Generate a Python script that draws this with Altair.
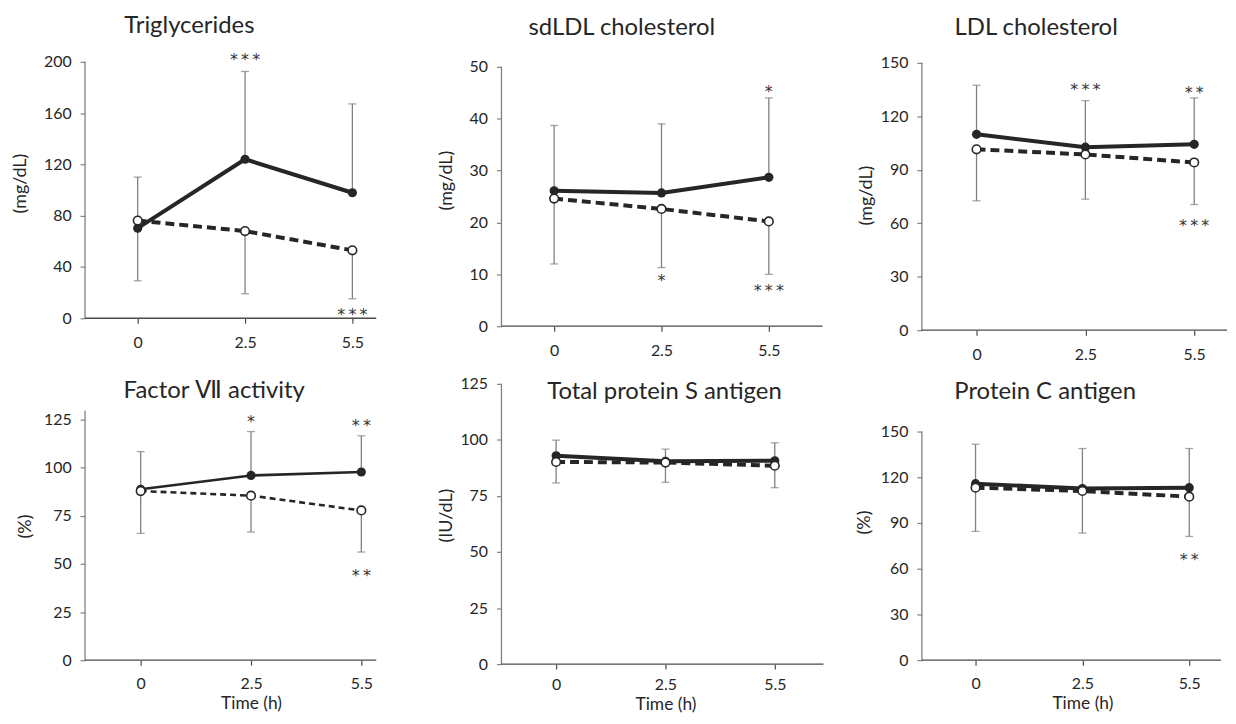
import altair as alt
import pandas as pd

# ---------------- data ----------------
TIME_LABELS = ["0", "2.5", "5.5"]
TIME_INDEX = [0, 1, 2]

PANEL_TITLES = ["Triglycerides", "sdLDL cholesterol", "LDL cholesterol",
                "Factor \u2166 activity", "Total protein S antigen", "Protein C antigen"]
Y_TITLES = ["(mg/dL)", "(mg/dL)", "(mg/dL)", "(%)", "(IU/dL)", "(%)"]
X_TITLES = [None, None, None, "Time (h)", "Time (h)", "Time (h)"]
Y_TICKS = [
    [0, 40, 80, 120, 160, 200],
    [0, 10, 20, 30, 40, 50],
    [0, 30, 60, 90, 120, 150],
    [0, 25, 50, 75, 100, 125],
    [0, 25, 50, 75, 100, 125],
    [0, 30, 60, 90, 120, 150],
]

# filled circles / solid line (SD bar drawn upward) and open circles / dashed line (SD bar drawn downward)
TG_SOLID = [70.3, 124.0, 97.9]
TG_SOLID_SD = [110.1, 192.5, 167.2]
TG_OPEN = [76.2, 68.0, 53.0]
TG_OPEN_SD = [29.2, 19.1, 15.2]
TG_STAR_T = [1, 2]
TG_STAR_Y = [203.4, 5.0]
TG_STAR_TEXT = ["***", "***"]

SDLDL_SOLID = [26.1, 25.7, 28.7]
SDLDL_SOLID_SD = [38.7, 39.0, 44.0]
SDLDL_OPEN = [24.6, 22.6, 20.2]
SDLDL_OPEN_SD = [12.0, 11.3, 10.0]
SDLDL_STAR_T = [2, 1, 2]
SDLDL_STAR_Y = [45.8, 9.3, 7.4]
SDLDL_STAR_TEXT = ["*", "*", "***"]

LDL_SOLID = [109.9, 102.7, 104.3]
LDL_SOLID_SD = [137.4, 128.8, 130.3]
LDL_OPEN = [101.5, 98.6, 94.1]
LDL_OPEN_SD = [72.6, 73.5, 70.5]
LDL_STAR_T = [1, 2, 2]
LDL_STAR_Y = [136.4, 134.8, 60.0]
LDL_STAR_TEXT = ["***", "**", "***"]

F7_SOLID = [88.8, 96.0, 97.8]
F7_SOLID_SD = [108.4, 118.8, 116.6]
F7_OPEN = [87.9, 85.5, 77.8]
F7_OPEN_SD = [65.9, 66.6, 56.2]
F7_STAR_T = [1, 2, 2]
F7_STAR_Y = [125.5, 123.4, 45.3]
F7_STAR_TEXT = ["*", "**", "**"]

PS_SOLID = [92.9, 90.5, 90.7]
PS_SOLID_SD = [99.9, 95.9, 98.7]
PS_OPEN = [90.2, 89.9, 88.5]
PS_OPEN_SD = [80.8, 81.1, 78.7]
PS_STAR_T = []
PS_STAR_Y = []
PS_STAR_TEXT = []

PC_SOLID = [115.8, 112.6, 113.2]
PC_SOLID_SD = [141.7, 138.9, 138.9]
PC_OPEN = [113.2, 111.0, 107.3]
PC_OPEN_SD = [84.5, 83.4, 81.2]
PC_STAR_T = [2]
PC_STAR_Y = [67.7]
PC_STAR_TEXT = ["**"]

SERIES = [
    (TG_SOLID, TG_SOLID_SD, TG_OPEN, TG_OPEN_SD, TG_STAR_T, TG_STAR_Y, TG_STAR_TEXT),
    (SDLDL_SOLID, SDLDL_SOLID_SD, SDLDL_OPEN, SDLDL_OPEN_SD, SDLDL_STAR_T, SDLDL_STAR_Y, SDLDL_STAR_TEXT),
    (LDL_SOLID, LDL_SOLID_SD, LDL_OPEN, LDL_OPEN_SD, LDL_STAR_T, LDL_STAR_Y, LDL_STAR_TEXT),
    (F7_SOLID, F7_SOLID_SD, F7_OPEN, F7_OPEN_SD, F7_STAR_T, F7_STAR_Y, F7_STAR_TEXT),
    (PS_SOLID, PS_SOLID_SD, PS_OPEN, PS_OPEN_SD, PS_STAR_T, PS_STAR_Y, PS_STAR_TEXT),
    (PC_SOLID, PC_SOLID_SD, PC_OPEN, PC_OPEN_SD, PC_STAR_T, PC_STAR_Y, PC_STAR_TEXT),
]

# ---------------- layout / style ----------------
FONT = "Lato"
STAR_FONT = "DejaVu Sans"
DARK = "#262626"
GRAY = "#808080"
XLINE = "#4a4a4a"
ROW_GAP = 50
COL_GAP = 80
ROW1_TOP = 50
TITLE_BASE = -24   # where a top title sits (centre) relative to its cell before dy

# page-pixel anchors used to size each panel's scales
LAYOUT = [
    dict(left=85, right=415, tick0=138, step=108, xend=378, ytick=61, yzero=319, yaxis_top=200,
         tcx=190, tcy=25, ytx=20, yty=183, lpad=11),
    dict(left=495, right=838, tick0=548, step=108, xend=818, ytick=66, yzero=327, yaxis_top=50,
         tcx=616, tcy=27, ytx=440, yty=180, lpad=11),
    dict(left=918, right=1226, tick0=973, step=109.5, xend=1225, ytick=62, yzero=331, yaxis_top=150,
         tcx=1033, tcy=27, ytx=862, yty=195, lpad=11),
    dict(left=85, right=424, tick0=141, step=111, xend=378, ytick=421, yzero=663, yaxis_top=129.8,
         tcx=215, tcy=392, ytx=25, yty=528, xty=707, lpad=11),
    dict(left=504, right=844, tick0=559, step=110, xend=828, ytick=385, yzero=667, yaxis_top=125,
         tcx=668, tcy=397, ytx=449, yty=517, xty=708, lpad=8),
    dict(left=924, right=1226, tick0=978, step=107.5, xend=1225, ytick=433, yzero=663, yaxis_top=150,
         tcx=1048, tcy=393, ytx=866, yty=524, xty=707, lpad=11),
]
ROW2_TOP = ROW1_TOP + max(LAYOUT[k]["yzero"] - ROW1_TOP for k in range(3)) + ROW_GAP
for k in range(3):
    LAYOUT[k]["top"] = ROW1_TOP
    LAYOUT[k + 3]["top"] = ROW2_TOP

LABEL_EXPR = "[" + ",".join("'" + s + "'" for s in TIME_LABELS) + "][datum.value]"


def make_panel(k):
    L = LAYOUT[k]
    solid, solid_sd, opn, opn_sd, st_t, st_y, st_txt = SERIES[k]
    w = L["right"] - L["left"]
    h = L["yzero"] - L["top"]
    px_per_unit = (L["yzero"] - L["ytick"]) / Y_TICKS[k][-1]
    ymax = h / px_per_unit
    xmin = -(L["tick0"] - L["left"]) / L["step"]
    xmax = xmin + w / L["step"]
    xend = (L["xend"] - L["tick0"]) / L["step"]
    lw = 2.6 if k == 3 else 4
    dash = [6, 4] if k == 3 else [9, 5]

    xs = alt.Scale(domain=[xmin, xmax], nice=False, zero=False)
    ys = alt.Scale(domain=[0, ymax], nice=False, zero=False)

    xaxis_kw = dict(values=TIME_INDEX, labelExpr=LABEL_EXPR, domain=False, grid=False,
                    tickSize=5, tickColor=XLINE, tickWidth=1.2, labelPadding=L["lpad"],
                    labelFont=FONT, labelFontSize=16, labelColor=DARK)
    if X_TITLES[k]:
        xaxis_kw.update(title=X_TITLES[k], titleFont=FONT, titleFontSize=17.5, titleFontWeight="normal",
                        titleColor=DARK, titleX=(L["tick0"] + L["step"]) - L["left"],
                        titleY=L["xty"] - L["yzero"], titleBaseline="middle", titleAlign="center")
    else:
        xaxis_kw.update(title=None)
    xaxis = alt.Axis(**xaxis_kw)
    yaxis = alt.Axis(values=Y_TICKS[k], domain=False, grid=False, tickSize=5, tickColor=GRAY,
                     tickWidth=1.2, labelPadding=9, labelFont=FONT, labelFontSize=16, labelColor=DARK,
                     title=Y_TITLES[k], titleFont=FONT, titleFontSize=18, titleFontWeight="normal",
                     titleColor=DARK, titleAngle=270, titleAlign="center", titleBaseline="middle",
                     titleX=L["ytx"] - L["left"], titleY=L["yty"] - L["top"])

    def X(f):
        return alt.X(f, type="quantitative", scale=xs, axis=xaxis)

    def Y(f):
        return alt.Y(f, type="quantitative", scale=ys, axis=yaxis)

    df = pd.DataFrame({
        "t": TIME_INDEX * 2,
        "grp": ["solid"] * len(TIME_INDEX) + ["open"] * len(TIME_INDEX),
        "mean": solid + opn,
        "sd": solid_sd + opn_sd,
    })
    frame = pd.DataFrame({"x0": [xmin], "x1": [xend], "y0": [0], "y1": [L["yaxis_top"]]})
    stars = pd.DataFrame({"t": st_t, "y": st_y,
                          "txt": ["\u2009".join(s) for s in st_txt]})

    base = alt.Chart(df)
    yline = alt.Chart(frame).mark_rule(color=GRAY, strokeWidth=1.3).encode(
        x=X("x0"), y=Y("y0"), y2="y1:Q")
    xline = alt.Chart(frame).mark_rule(color=XLINE, strokeWidth=1.3).encode(
        x=X("x0"), x2="x1:Q", y=Y("y0"))
    bars = base.mark_rule(color=GRAY, strokeWidth=1.3).encode(x=X("t"), y=Y("mean"), y2="sd:Q")
    caps = base.mark_tick(orient="horizontal", size=8, thickness=1.3, color=GRAY).encode(
        x=X("t"), y=Y("sd"))
    open_line = base.transform_filter(alt.datum.grp == "open").mark_line(
        color=DARK, strokeWidth=lw, strokeDash=dash).encode(x=X("t"), y=Y("mean"))
    solid_line = base.transform_filter(alt.datum.grp == "solid").mark_line(
        color=DARK, strokeWidth=lw).encode(x=X("t"), y=Y("mean"))
    solid_pts = base.transform_filter(alt.datum.grp == "solid").mark_circle(
        color=DARK, size=85, opacity=1).encode(x=X("t"), y=Y("mean"))
    open_pts = base.transform_filter(alt.datum.grp == "open").mark_point(
        shape="circle", fill="white", stroke=DARK, strokeWidth=1.6, size=75, opacity=1,
        fillOpacity=1).encode(x=X("t"), y=Y("mean"))
    layers = [yline, xline, bars, caps, open_line, solid_line, solid_pts, open_pts]
    if len(stars):
        star_layer = alt.Chart(stars).mark_text(font=STAR_FONT, fontSize=16, color="#333333",
                                                baseline="alphabetic", dy=8).encode(
            x=X("t"), y=Y("y"), text="txt:N")
        layers.append(star_layer)

    title = alt.TitleParams(text=PANEL_TITLES[k], font=FONT, fontSize=24, fontWeight="normal",
                            color=DARK, anchor="middle", baseline="middle", offset=0,
                            dx=L["tcx"] - (L["left"] + w / 2),
                            dy=(L["tcy"] - L["top"]) - TITLE_BASE)
    return alt.layer(*layers).properties(width=w, height=h, title=title,
                                         view=alt.ViewBackground(stroke="transparent", strokeWidth=0))


panels = [make_panel(k) for k in range(6)]
chart = alt.concat(*panels, columns=3, spacing={"row": ROW_GAP, "column": COL_GAP},
                   bounds="flush", align="none").properties(
    padding={"left": 3.5, "top": 4, "right": 0, "bottom": 0},
    background="white",
).configure_view(stroke="transparent", strokeWidth=0)

chart.save("out.html", embed_options={"renderer": "svg", "actions": False})
